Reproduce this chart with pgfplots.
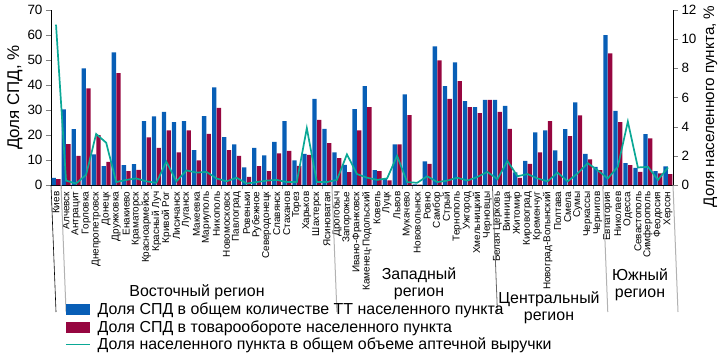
\documentclass[border=0pt]{standalone}
\usepackage{fontspec}
\setmainfont{Liberation Sans}
\usepackage{pgfplots}
\pgfplotsset{compat=1.18}
\usepackage{pgfplotstable}
\definecolor{cblue}{RGB}{8,94,182}
\definecolor{cred}{RGB}{150,6,64}
\definecolor{cteal}{RGB}{10,168,150}
\pgfplotstableread{
i b r l
0 2.9 2.4 11.0
1 30.3 16.4 0.3
2 22.4 11.7 0.1
3 46.7 38.7 0.7
4 12.3 20.0 3.5
5 7.6 9.3 2.9
6 53.1 44.8 0.2
7 8.0 5.6 0.35
8 8.4 6.1 0.45
9 25.6 19.1 0.25
10 27.5 14.9 0.15
11 29.3 21.9 1.6
12 25.2 13.1 0.25
13 25.6 21.9 1.0
14 14.0 9.9 0.85
15 27.6 20.5 0.9
16 39.1 30.9 0.45
17 19.2 14.0 0.25
18 16.3 11.7 0.5
19 7.1 3.3 0.1
20 14.9 7.6 0.2
21 11.9 5.6 0.3
22 17.3 12.7 0.35
23 25.6 13.7 0.2
24 9.9 7.7 0.2
25 12.5 12.1 3.9
26 34.5 26.1 0.2
27 22.5 16.8 0.2
28 13.1 10.8 0.35
29 8.1 5.2 2.1
30 30.4 21.9 0.75
31 39.6 31.2 0.5
32 6.0 5.6 0.35
33 2.4 1.9 0.45
34 16.3 16.3 2.0
35 36.3 28.0 0.2
36 0.3 0.2 0.15
37 9.5 8.5 0.6
38 55.5 49.9 0.2
39 39.6 34.5 0.3
40 49.1 41.6 0.5
41 33.6 31.2 0.3
42 31.2 28.8 0.55
43 34.1 34.1 0.9
44 34.1 29.3 0.4
45 31.7 22.5 1.65
46 5.1 2.9 0.6
47 9.7 8.5 0.75
48 21.1 13.1 0.45
49 21.9 25.6 0.25
50 13.9 9.7 0.85
51 22.4 19.6 0.25
52 33.1 27.9 0.8
53 12.5 10.3 1.5
54 7.3 6.0 1.0
55 60.0 52.7 0.45
56 29.7 25.2 1.25
57 8.8 8.0 4.35
58 6.9 5.3 1.2
59 20.4 18.7 1.25
60 5.6 4.7 0.35
61 7.5 4.4 1.2
}\data
\begin{document}
\begin{tikzpicture}
\begin{axis}[
  at={(0,0)}, anchor=south west, scale only axis,
  width=622bp, height=175bp,
  xmin=-0.5, xmax=61.5, ymin=0, ymax=70,
  axis x line*=bottom, axis y line*=left,
  ybar=0.4bp, bar width=4.3bp,
  clip=false,
  tick align=outside,
  major tick length=5bp, minor tick length=4bp,
  xtick={0,...,61},
  xticklabels={Киев,Алчевск,Антрацит,Горловка,Днепропетровск,Донецк,Дружковка,Енакиево,Краматорск,Красноармейск,Красный Луч,Кривой Рог,Лисичанск,Луганск,Макеевка,Мариуполь,Никополь,Новомосковск,Павлоград,Ровеньки,Рубежное,Северодонецк,Славянск,Стаханов,Торез,Харьков,Шахтерск,Ясиноватая,Дрогобыч,Запорожье,Ивано-Франковск,Каменец-Подольский,Ковель,Луцк,Львов,Мукачево,Нововолынск,Ровно,Самбор,Стрый,Тернополь,Ужгород,Хмельницкий,Черновцы,Белая Церковь,Винница,Житомир,Кировоград,Кременчуг,Новоград-Волынский,Полтава,Смела,Сумы,Черкассы,Чернигов,Евпатория,Николаев,Одесса,Севастополь,Симферополь,Феодосия,Херсон},
  x tick label style={rotate=90, anchor=east, font=\fontsize{10}{10}\selectfont, inner sep=1.5bp},
  major x tick style={draw=none},
  minor xtick={0.5,1.5,...,60.5},
  minor x tick style={gray!70},
  ytick={0,10,...,70},
  y tick label style={font=\fontsize{13.5}{13.5}\selectfont},
  /pgf/number format/assume math mode=true,
  ylabel={Доля СПД, \%},
  ylabel style={at={(rel axis cs:-0.058,0.5)}, anchor=center, rotate=0, font=\fontsize{17}{17}\selectfont},
  legend style={at={(0.0225,-0.665)}, anchor=north west, draw=none, fill=none,
    font=\fontsize{16}{18}\selectfont, row sep=1.2bp, inner sep=0bp,
    nodes={inner sep=1.5bp}},
  legend cell align=left,
]
\addplot[fill=cblue, draw=none, legend image code/.code={\fill[cblue] (0bp,-5.5bp) rectangle (24bp,5.5bp); \path (30bp,0bp);}] table[x=i,y=b]{\data};
\addlegendentry{Доля СПД в общем количестве ТТ населенного пункта}
\addplot[fill=cred, draw=none, legend image code/.code={\fill[cred] (0bp,-5.5bp) rectangle (24bp,5.5bp); \path (30bp,0bp);}] table[x=i,y=r]{\data};
\addlegendentry{Доля СПД в товарообороте населенного пункта}
\addlegendimage{legend image code/.code={\draw[cteal, line width=1.6bp] (0bp,0bp) -- (24bp,0bp); \path (30bp,0bp);}}
\addlegendentry{Доля населенного пункта в общем объеме аптечной выручки}
\draw[black, line width=0.6bp] (axis cs:-0.5,0) -- ++(0,-127bp);
\draw[gray!60, line width=1bp] (axis cs:0.5,0) -- ++(0,-127bp);
\draw[gray!60, line width=1bp] (axis cs:27.5,0) -- ++(0,-127bp);
\draw[gray!80!black, line width=0.8bp] (axis cs:43.5,0) -- ++(0,-127bp);
\draw[gray!60, line width=1bp] (axis cs:54.5,0) -- ++(0,-127bp);
\draw[gray!60, line width=1bp] (axis cs:61.5,0) -- ++(0,-127bp);
\end{axis}
\begin{axis}[
  at={(0,0)}, anchor=south west, scale only axis,
  width=622bp, height=175bp,
  xmin=-0.5, xmax=61.5, ymin=0, ymax=12,
  axis x line=none, axis y line*=right,
  tick align=outside, major tick length=5bp,
  ytick={0,2,...,12},
  y tick label style={font=\fontsize{13.5}{13.5}\selectfont},
  /pgf/number format/assume math mode=true,
  ylabel={Доля населенного пункта, \%},
  ylabel style={at={(rel axis cs:1.06,0.45)}, anchor=center, rotate=0, font=\fontsize{15.3}{15.3}\selectfont},
]
\addplot[cteal, line width=1.7bp, mark=none] table[x=i,y=l]{\data};
\end{axis}
\begin{scope}[every node/.style={font=\fontsize{16}{17}\selectfont, align=center, inner sep=0pt}]
\node at (146bp,-107bp) {Восточный регион};
\node at (368bp,-99bp) {Западный\\регион};
\node at (498bp,-123bp) {Центральный\\регион};
\node at (589bp,-100bp) {Южный\\регион};
\end{scope}
\pgfresetboundingbox
\path[use as bounding box] (-51bp,-169bp) rectangle (669bp,185bp);
\end{tikzpicture}
\end{document}
